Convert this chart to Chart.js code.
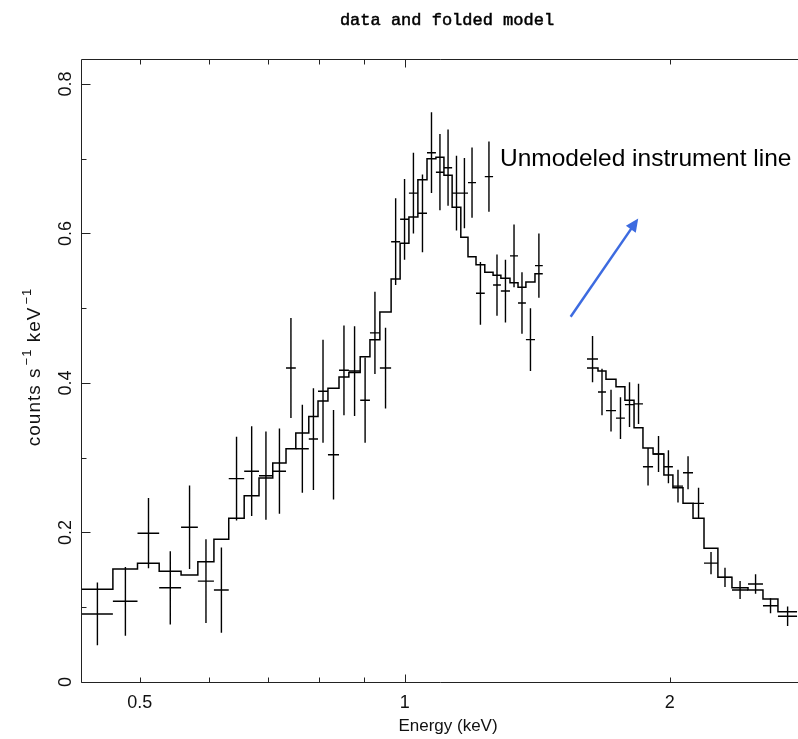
<!DOCTYPE html>
<html>
<head>
<meta charset="utf-8">
<title>data and folded model</title>
<script src="https://cdn.jsdelivr.net/npm/chart.js@4.4.0/dist/chart.umd.min.js"></script>
<style>
    html, body { margin: 0; padding: 0; background: #fff; overflow: hidden; }
    #wrap { width: 798px; height: 739px; }
</style>
</head>
<body>
<div id="wrap"><canvas id="spectrum" width="798" height="739"></canvas></div>
<script>
// Spectral bins (keV), lower and upper edges -- gap between 1.435 and 1.611
const binLo = [0.429, 0.466, 0.497, 0.526, 0.557, 0.582, 0.607, 0.631, 0.657, 0.683,
    0.708, 0.733, 0.752, 0.778, 0.797, 0.818, 0.842, 0.864, 0.890, 0.913,
    0.937, 0.965, 0.988, 1.011, 1.035, 1.060, 1.085, 1.108, 1.132, 1.158,
    1.180, 1.205, 1.233, 1.260, 1.286, 1.317, 1.345, 1.373, 1.406,
    1.611, 1.658, 1.693, 1.738, 1.779, 1.822, 1.865, 1.915, 1.970, 2.017,
    2.071, 2.126, 2.188, 2.269, 2.354, 2.455, 2.553, 2.655];
const binHi = [0.466, 0.497, 0.526, 0.557, 0.582, 0.607, 0.631, 0.657, 0.683, 0.708,
    0.733, 0.752, 0.778, 0.797, 0.818, 0.842, 0.864, 0.890, 0.913, 0.937,
    0.965, 0.988, 1.011, 1.035, 1.060, 1.085, 1.108, 1.132, 1.158, 1.180,
    1.205, 1.233, 1.260, 1.286, 1.317, 1.345, 1.373, 1.406, 1.435,
    1.658, 1.693, 1.738, 1.779, 1.822, 1.865, 1.915, 1.970, 2.017, 2.071,
    2.126, 2.188, 2.269, 2.354, 2.455, 2.553, 2.655, 2.791];

// Observed rate (counts s^-1 keV^-1) and 1-sigma errors
const counts = [0.091, 0.108, 0.199, 0.126, 0.207, 0.135, 0.123, 0.272, 0.282, 0.276,
    0.282, 0.420, 0.312, 0.325, 0.389, 0.304, 0.417, 0.416, 0.377, 0.467,
    0.420, 0.589, 0.619, 0.654, 0.627, 0.708, 0.682, 0.688, 0.654, 0.654,
    0.668, 0.520, 0.676, 0.531, 0.523, 0.570, 0.507, 0.458, 0.557,
    0.432, 0.388, 0.363, 0.353, 0.371, 0.372, 0.288, 0.305, 0.288, 0.262,
    0.280, 0.239, 0.159, 0.140, 0.123, 0.131, 0.102, 0.088];
const countErr = [0.042, 0.046, 0.047, 0.049, 0.056, 0.056, 0.057, 0.056, 0.060, 0.059,
    0.057, 0.067, 0.059, 0.068, 0.069, 0.060, 0.060, 0.060, 0.057, 0.055,
    0.054, 0.058, 0.054, 0.054, 0.052, 0.054, 0.051, 0.051, 0.050, 0.047,
    0.047, 0.042, 0.047, 0.041, 0.042, 0.042, 0.041, 0.042, 0.043,
    0.031, 0.031, 0.028, 0.028, 0.030, 0.027, 0.025, 0.024, 0.022, 0.022,
    0.022, 0.021, 0.015, 0.013, 0.012, 0.013, 0.010, 0.013];

// Folded model per bin
const model = [0.124, 0.151, 0.159, 0.148, 0.143, 0.161, 0.191, 0.219, 0.249, 0.273,
    0.293, 0.312, 0.333, 0.355, 0.376, 0.393, 0.408, 0.414, 0.435, 0.458,
    0.495, 0.539, 0.587, 0.622, 0.672, 0.700, 0.702, 0.678, 0.635, 0.595,
    0.569, 0.558, 0.548, 0.544, 0.540, 0.534, 0.528, 0.535, 0.546,
    0.420, 0.416, 0.405, 0.395, 0.377, 0.340, 0.313, 0.305, 0.277, 0.260,
    0.239, 0.219, 0.179, 0.140, 0.126, 0.123, 0.111, 0.094];

// Axis ticks
const xTickMarks = [0.5, 0.6, 0.7, 0.8, 0.9, 1, 2];
const xTickLabels = [0.5, 1, 2];
const yMajorTicks = [0, 0.2, 0.4, 0.6, 0.8];
const yMinorTicks = [0.1, 0.3, 0.5, 0.7];

// Annotation (data coordinates: keV, rate)
const noteText = 'Unmodeled instrument line';
const notePos = [1.283, 0.690];
const arrowFrom = [1.5435, 0.4887];
const arrowTo = [1.842, 0.620];

// Build the stepped model line, breaking it where bins are not contiguous
function buildModelPoints() {
    const pts = [];
    for (let i = 0; i < binLo.length; i++) {
        pts.push({ x: binLo[i], y: model[i] });
        pts.push({ x: binHi[i], y: model[i] });
        if (i + 1 < binLo.length && binLo[i + 1] !== binHi[i]) {
            pts.push({ x: binHi[i], y: null });
        }
    }
    return pts;
}

// Build the data crosses (bin width + error bar) as broken line segments
function buildCrossPoints() {
    const pts = [];
    for (let i = 0; i < binLo.length; i++) {
        const mid = (binLo[i] + binHi[i]) / 2;
        pts.push({ x: binLo[i], y: counts[i] });
        pts.push({ x: binHi[i], y: counts[i] });
        pts.push({ x: binHi[i], y: null });
        pts.push({ x: mid, y: counts[i] - countErr[i] });
        pts.push({ x: mid, y: counts[i] + countErr[i] });
        pts.push({ x: mid, y: null });
    }
    return pts;
}

// Frame, inward ticks, labels and annotation in the PGPLOT style
const framePlugin = {
    id: 'xspecFrame',
    afterDraw(chart) {
        const { ctx, chartArea: a } = chart;
        const xs = chart.scales.x, ys = chart.scales.y;
        const L = Math.round(a.left) + 0.5;
        const T = Math.round(a.top) + 0.5;
        const B = Math.round(a.bottom) + 0.5;
        const R = a.right + 20;

        ctx.save();
        ctx.strokeStyle = '#222';
        ctx.lineWidth = 1;
        ctx.beginPath();
        ctx.moveTo(R, T); ctx.lineTo(L, T); ctx.lineTo(L, B); ctx.lineTo(R, B);

        xTickMarks.forEach(v => {
            const px = Math.round(xs.getPixelForValue(v)) + 0.5;
            const len = v === 1 ? 8 : 5;
            ctx.moveTo(px, B); ctx.lineTo(px, B - len);
            ctx.moveTo(px, T); ctx.lineTo(px, T + len);
        });
        yMajorTicks.forEach(v => {
            const py = Math.round(ys.getPixelForValue(v)) + 0.5;
            ctx.moveTo(L, py); ctx.lineTo(L + 9, py);
        });
        yMinorTicks.forEach(v => {
            const py = Math.round(ys.getPixelForValue(v)) + 0.5;
            ctx.moveTo(L, py); ctx.lineTo(L + 5, py);
        });
        ctx.stroke();

        // Tick labels
        ctx.fillStyle = '#111';
        ctx.font = '18px "Liberation Sans", Arial, sans-serif';
        ctx.textAlign = 'center';
        ctx.textBaseline = 'alphabetic';
        xTickLabels.forEach(v => {
            ctx.fillText(String(v), xs.getPixelForValue(v), 707.5);
        });
        yMajorTicks.forEach(v => {
            ctx.save();
            ctx.translate(70.5, ys.getPixelForValue(v));
            ctx.rotate(-Math.PI / 2);
            ctx.fillText(String(v), 0, 0);
            ctx.restore();
        });

        // Axis titles
        ctx.font = '17px "Liberation Sans", Arial, sans-serif';
        ctx.fillText('Energy (keV)', 448, 731);

        ctx.save();
        ctx.translate(40, 367);
        ctx.rotate(-Math.PI / 2);
        ctx.letterSpacing = '1px';
        const parts = [
            ['counts s', false], ['\u22121', true], [' keV', false], ['\u22121', true]
        ];
        const fontMain = '19px "Liberation Sans", Arial, sans-serif';
        const fontSup = '13px "Liberation Sans", Arial, sans-serif';
        let total = 0;
        parts.forEach(([t, sup]) => {
            ctx.font = sup ? fontSup : fontMain;
            total += ctx.measureText(t).width + (sup ? 2 : 0);
        });
        let cx = -total / 2;
        ctx.textAlign = 'left';
        parts.forEach(([t, sup]) => {
            ctx.font = sup ? fontSup : fontMain;
            ctx.fillText(t, cx + (sup ? 2 : 0), sup ? -9 : 0);
            cx += ctx.measureText(t).width + (sup ? 2 : 0);
        });
        ctx.restore();

        // Plot title
        ctx.textAlign = 'center';
        ctx.fillStyle = '#000';
        ctx.strokeStyle = '#000';
        ctx.lineWidth = 0.5;
        ctx.font = '17px "Liberation Mono", "Courier New", monospace';
        ctx.fillText('data and folded model', 447, 25);
        ctx.strokeText('data and folded model', 447, 25);

        // Annotation text and arrow
        ctx.textAlign = 'left';
        ctx.font = '24.5px "Liberation Sans", Arial, sans-serif';
        ctx.fillText(noteText, xs.getPixelForValue(notePos[0]), ys.getPixelForValue(notePos[1]));

        const x0 = xs.getPixelForValue(arrowFrom[0]), y0 = ys.getPixelForValue(arrowFrom[1]);
        const x1 = xs.getPixelForValue(arrowTo[0]), y1 = ys.getPixelForValue(arrowTo[1]);
        const len = Math.hypot(x1 - x0, y1 - y0);
        const ux = (x1 - x0) / len, uy = (y1 - y0) / len;
        const head = 13, half = 6;
        const bx = x1 - ux * head, by = y1 - uy * head;
        ctx.strokeStyle = '#3d6be0';
        ctx.fillStyle = '#3d6be0';
        ctx.lineWidth = 2.5;
        ctx.beginPath();
        ctx.moveTo(x0, y0);
        ctx.lineTo(bx + ux * 2, by + uy * 2);
        ctx.stroke();
        ctx.beginPath();
        ctx.moveTo(x1, y1);
        ctx.lineTo(bx - uy * half, by + ux * half);
        ctx.lineTo(bx + uy * half, by - ux * half);
        ctx.closePath();
        ctx.fill();
        ctx.restore();
    }
};

document.addEventListener('DOMContentLoaded', () => {
    const ctx = document.getElementById('spectrum').getContext('2d');
    new Chart(ctx, {
        type: 'line',
        data: {
            datasets: [{
                label: 'folded model',
                data: buildModelPoints(),
                borderColor: '#000',
                borderWidth: 1.5,
                pointRadius: 0,
                tension: 0,
                spanGaps: false
            }, {
                label: 'data',
                data: buildCrossPoints(),
                borderColor: '#000',
                borderWidth: 1.4,
                pointRadius: 0,
                tension: 0,
                spanGaps: false
            }]
        },
        options: {
            responsive: false,
            animation: false,
            layout: { padding: { left: 81, top: 59, right: 0, bottom: 57 } },
            plugins: {
                legend: { display: false },
                tooltip: { enabled: false }
            },
            scales: {
                x: { type: 'logarithmic', min: 0.4287, max: 2.798, display: false },
                y: { type: 'linear', min: 0, max: 0.8334, display: false }
            }
        },
        plugins: [framePlugin]
    });
});
</script>
</body>
</html>
